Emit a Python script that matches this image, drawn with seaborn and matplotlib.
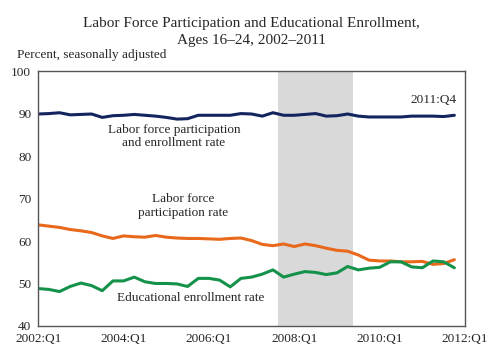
import numpy as np
import pandas as pd
import matplotlib
matplotlib.use("Agg")
import matplotlib.pyplot as plt
import seaborn as sns

# Quarterly series, 2002:Q1 .. 2011:Q4 (percent, seasonally adjusted)
quarters = [f"{y}:Q{q}" for y in range(2002, 2012) for q in range(1, 5)]

lfp_enroll = [89.9, 90.0, 90.2, 89.7, 89.8, 89.9, 89.1, 89.5, 89.6, 89.8,
              89.6, 89.4, 89.1, 88.7, 88.8, 89.6, 89.6, 89.6, 89.6, 90.0,
              89.9, 89.4, 90.2, 89.6, 89.6, 89.8, 90.0, 89.4, 89.5, 89.9,
              89.4, 89.2, 89.2, 89.2, 89.2, 89.4, 89.4, 89.4, 89.3, 89.6]

lfp = [63.8, 63.5, 63.2, 62.7, 62.4, 62.0, 61.2, 60.6, 61.2, 61.0,
       60.9, 61.3, 60.9, 60.7, 60.6, 60.6, 60.5, 60.4, 60.6, 60.7,
       60.1, 59.2, 58.9, 59.3, 58.7, 59.3, 58.9, 58.3, 57.8, 57.6,
       56.7, 55.5, 55.3, 55.3, 55.1, 55.1, 55.2, 54.5, 54.7, 55.6]

enroll = [48.8, 48.6, 48.1, 49.3, 50.1, 49.5, 48.3, 50.6, 50.6, 51.5,
          50.4, 50.0, 50.0, 49.9, 49.3, 51.2, 51.2, 50.8, 49.2, 51.2,
          51.5, 52.2, 53.2, 51.5, 52.2, 52.8, 52.6, 52.1, 52.5, 54.0,
          53.2, 53.6, 53.8, 55.1, 55.1, 53.9, 53.7, 55.3, 55.1, 53.7]

tick_labels = ["2002:Q1", "2004:Q1", "2006:Q1", "2008:Q1", "2010:Q1", "2012:Q1"]
recession = (22.5, 29.5)  # 2007:Q4 - 2009:Q2, in quarter index

df = pd.DataFrame({
    "q": np.arange(len(quarters)),
    "Labor force participation and enrollment rate": lfp_enroll,
    "Labor force participation rate": lfp,
    "Educational enrollment rate": enroll,
}).melt(id_vars="q", var_name="series", value_name="pct")

colors = {
    "Labor force participation and enrollment rate": "#14245e",
    "Labor force participation rate": "#e8681c",
    "Educational enrollment rate": "#14924a",
}

sns.set_style("white")
plt.rcParams['font.family'] = ['Liberation Serif', 'DejaVu Serif']

fig = plt.figure(figsize=(4.9, 3.52), dpi=100)
ax = fig.add_axes([0.078, 0.074, 0.871, 0.724])

ax.axvspan(*recession, color="#d9d9d9", lw=0, zorder=0)
sns.lineplot(data=df, x="q", y="pct", hue="series", palette=colors,
             linewidth=2.2, legend=False, ax=ax)

ax.set_xlim(0, 40)
ax.set_ylim(40, 100)
ax.set_xticks(range(0, 41, 8))
ax.set_xticklabels(tick_labels)
ax.set_yticks(range(40, 101, 10))
ax.set_xlabel("")
ax.set_ylabel("")
ax.tick_params(direction="inout", length=6, width=0.8, color="#555555",
               labelsize=9.5, pad=2)
for s in ax.spines.values():
    s.set_color("#555555")
    s.set_linewidth(1.0)

ax.text(0.318, 0.743, "Labor force participation\nand enrollment rate",
        transform=ax.transAxes, ha="center", va="center", fontsize=9.5,
        linespacing=1.2)
ax.text(0.979, 0.886, "2011:Q4", transform=ax.transAxes, ha="right",
        va="center", fontsize=9.5)
ax.text(0.34, 0.47, "Labor force\nparticipation rate",
        transform=ax.transAxes, ha="center", va="center", fontsize=9.5,
        linespacing=1.2)
ax.text(0.358, 0.11, "Educational enrollment rate", transform=ax.transAxes,
        ha="center", va="center", fontsize=9.5)

fig.text(0.513, 0.91, "Labor Force Participation and Educational Enrollment,\nAges 16\u201324, 2002\u20132011",
         ha="center", va="center", fontsize=11, linespacing=1.4)
fig.text(0.035, 0.843, "Percent, seasonally adjusted", ha="left",
         va="center", fontsize=9.5)

fig.savefig("out.png", dpi=100)
